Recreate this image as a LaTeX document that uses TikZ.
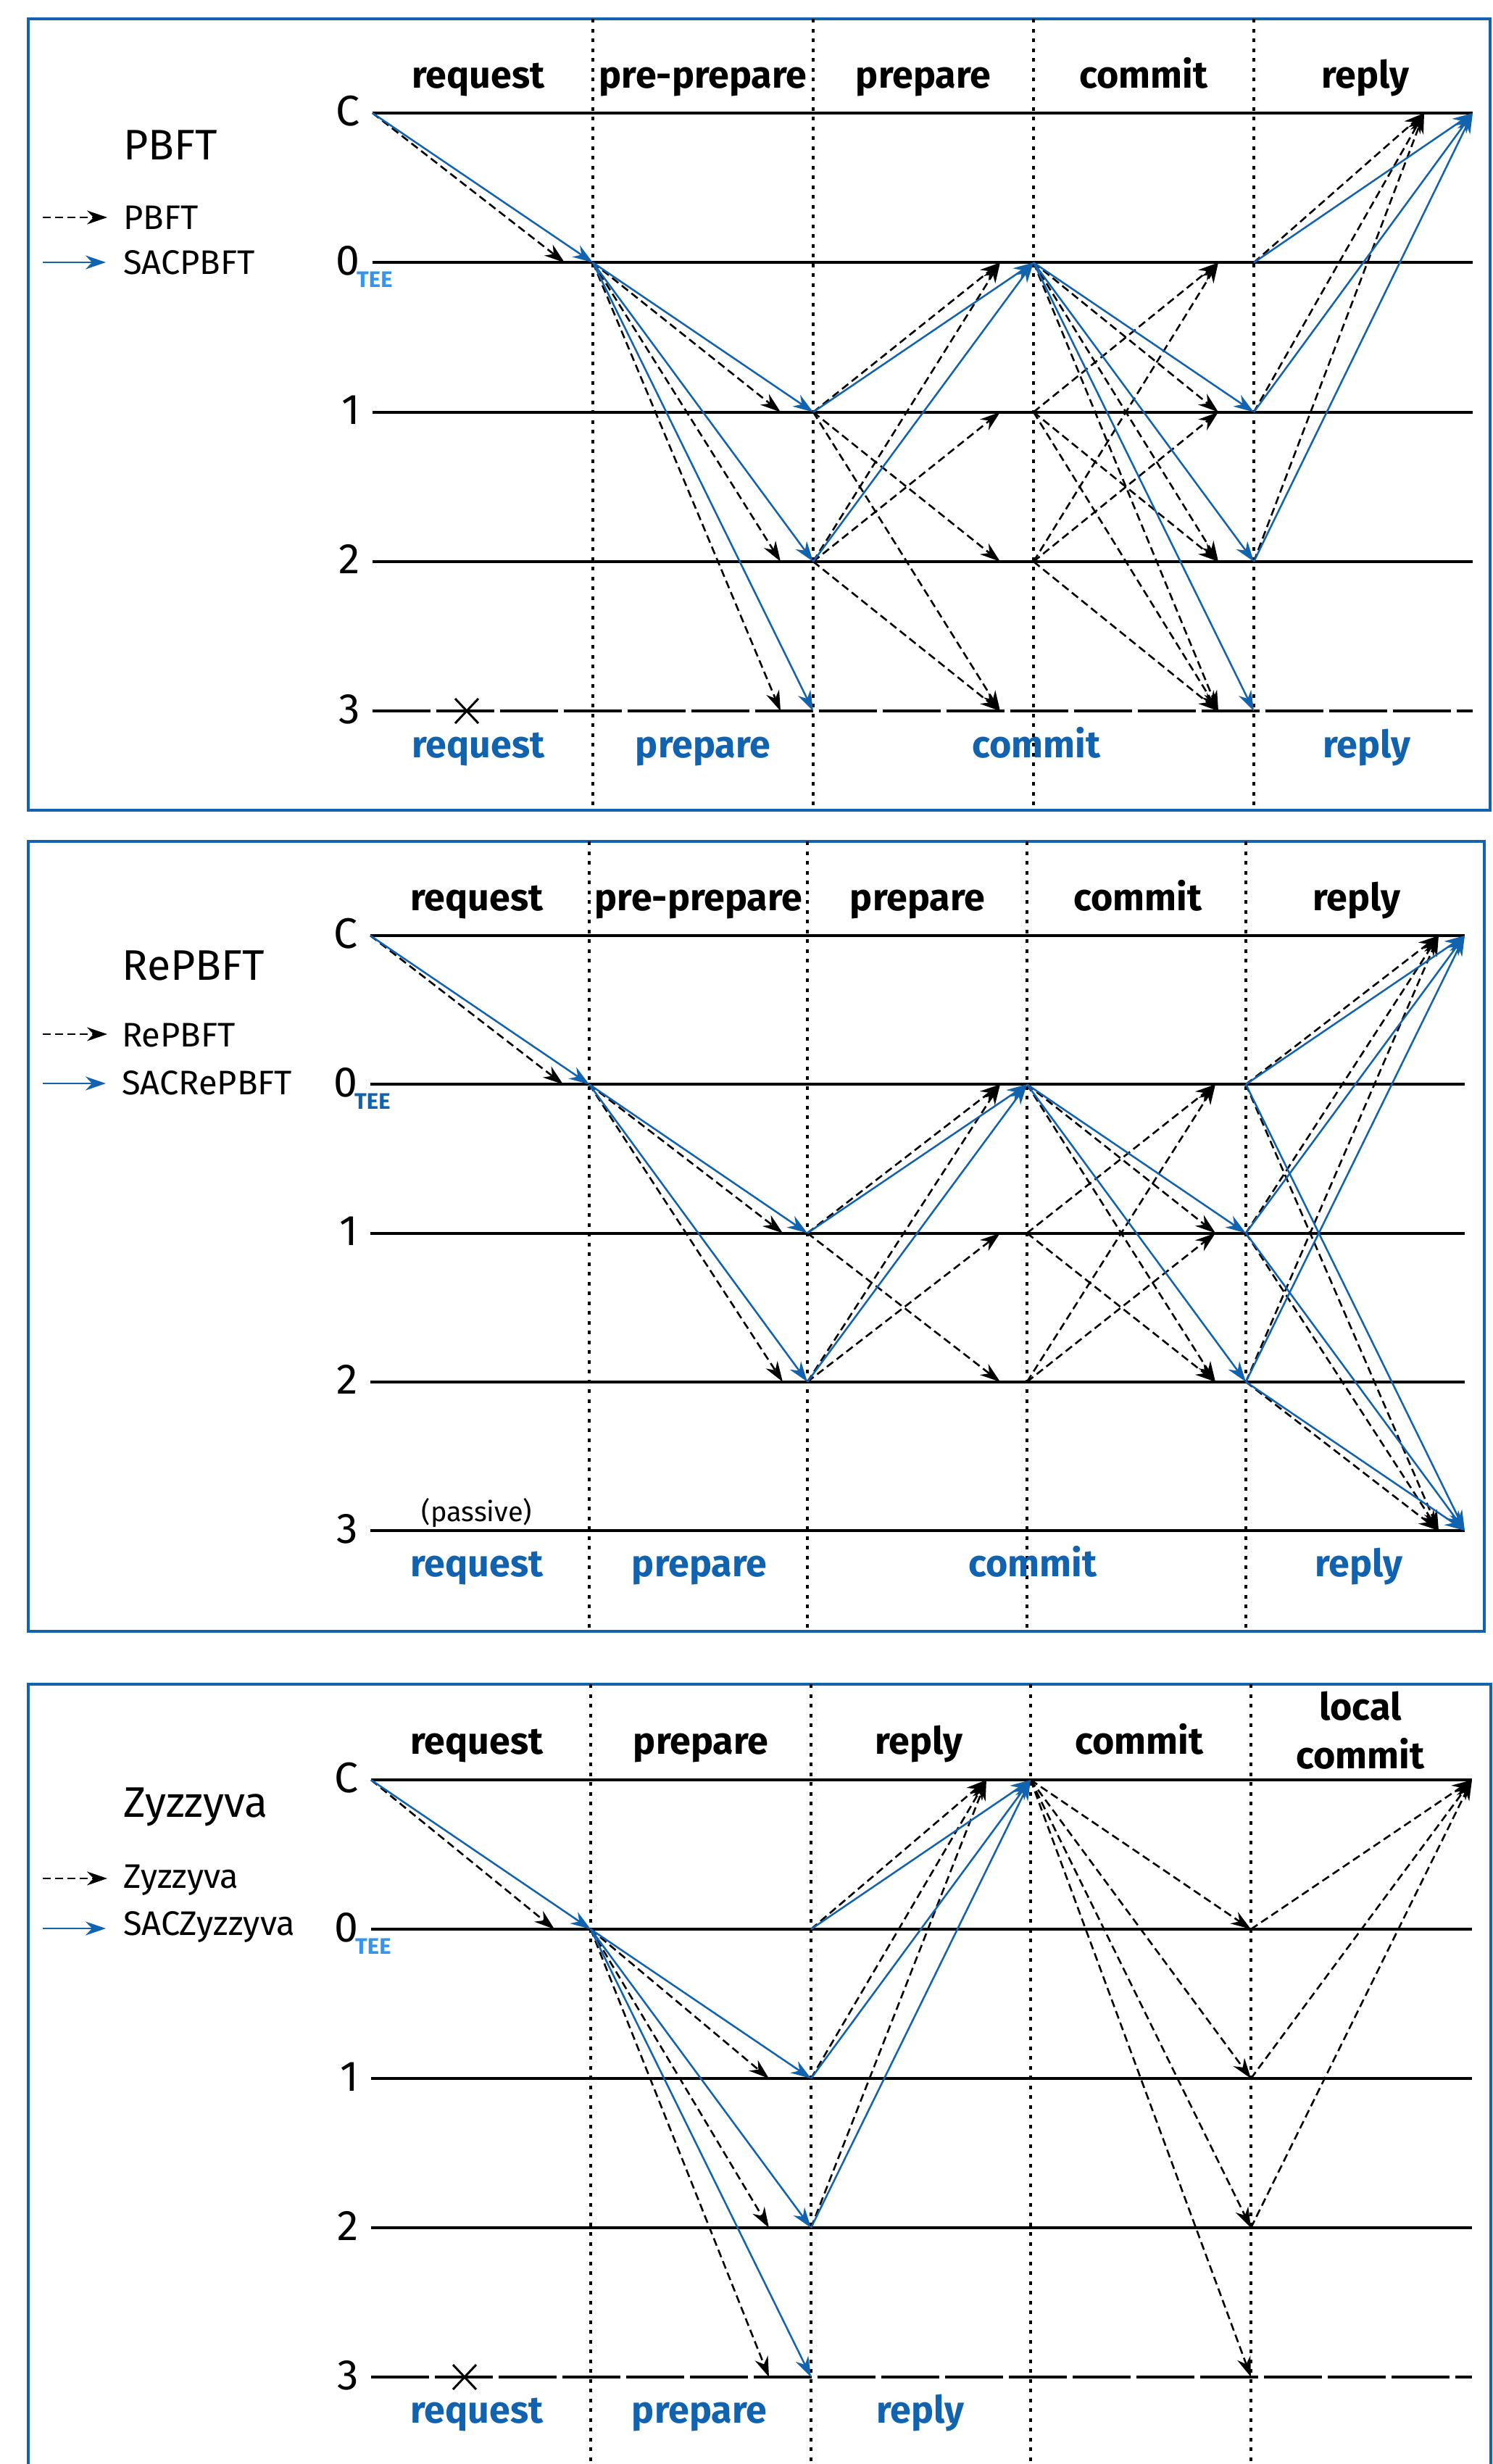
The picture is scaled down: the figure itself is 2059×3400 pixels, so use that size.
\documentclass[tikz,border=0pt]{standalone}
\usepackage{fontspec}
\setmainfont{Fira Sans}
\usetikzlibrary{arrows.meta,calc}
\definecolor{sacblue}{RGB}{17,99,175}
\definecolor{teeblue}{RGB}{50,150,240}

% event points: prefix, y of row C, row spacing, t0..t5
\newcommand\pcoords[9]{%
  \foreach \rw/\ix in {C/0,0/1,1/2,2/3,3/4}{%
    \foreach \kk/\xx in {0/#4,1/#5,2/#6,3/#7,4/#8,5/#9}{%
      \coordinate (#1-\rw-\kk) at (\xx,{#2+\ix*#3});
    }%
  }%
}
% arrival points of the dashed (original protocol) messages
\newcommand\dcoords[8]{%
  \foreach \rw/\ix in {C/0,0/1,1/2,2/3,3/4}{%
    \foreach \kk/\xx in {1/#4,2/#5,3/#6,4/#7,5/#8}{%
      \coordinate (#1-\rw-d\kk) at (\xx,{#2+\ix*#3});
    }%
  }%
}

\begin{document}
\begin{tikzpicture}[x=1pt,y=-1pt,
  rowline/.style={line width=4pt},
  rowdash/.style={line width=4pt, dash pattern=on 80pt off 8pt},
  dotline/.style={line width=3.5pt, dash pattern=on 5pt off 8.5pt},
  panelbox/.style={draw=sacblue, line width=4.5pt},
  dmsg/.style={line width=2.6pt, dash pattern=on 11pt off 6pt, -{Stealth[length=28pt,width=19pt,inset=9pt]}},
  bmsg/.style={sacblue, line width=2.5pt, -{Stealth[length=28pt,width=19pt,inset=9pt]}},
  phase/.style={font=\fontsize{52}{66.5}\selectfont\bfseries, anchor=base, inner sep=0pt},
  bphase/.style={phase, text=sacblue},
  rowlab/.style={font=\fontsize{59}{70}\selectfont, anchor=base east, inner sep=0pt},
  ptitle/.style={font=\fontsize{59}{70}\selectfont, anchor=base west, inner sep=0pt},
  leglab/.style={font=\fontsize{47}{55}\selectfont, anchor=base west, inner sep=0pt},
  tee/.style={font=\fontsize{31}{36}\selectfont\bfseries, anchor=base west, inner sep=0pt},
  crossmark/.style={line width=3pt},
]
\useasboundingbox (0,0) rectangle (2059,3400);
\fill[white] (0,0) rectangle (2059,3400);

%================ Panel A : PBFT ================
\pcoords{A}{156}{206.3}{514}{818}{1122}{1426}{1730}{2032}
\dcoords{A}{156}{206.3}{779}{1077}{1380}{1681}{1965}
\draw[panelbox] (39,26) rectangle (2056,1118);
\foreach \xx in {818,1122,1426,1730} \draw[dotline] (\xx,26) -- (\xx,1118);
\foreach \rw in {C,0,1,2} \draw[rowline] (A-\rw-0) -- (A-\rw-5);
\draw[rowdash] (A-3-0) -- (A-3-5);
\draw[crossmark] (628,964) -- (660,998) (628,998) -- (660,964);
\foreach \rw in {C,0,1,2,3} \node[rowlab] (A-l\rw) at ($(A-\rw-0)+(-17,17)$) {\rw};
\node[tee, text=teeblue] (A-tee) at ($(A-0-0)+(-22,34)$) {TEE};
\node[ptitle] (A-title) at (170,220) {PBFT};
\coordinate (A-g1s) at (59,300); \coordinate (A-g1e) at (148,300);
\coordinate (A-g2s) at (59,362); \coordinate (A-g2e) at (146,362);
\draw[dmsg] (A-g1s) -- (A-g1e);
\draw[bmsg] (A-g2s) -- (A-g2e);
\node[leglab] (A-g1) at (170,316) {PBFT};
\node[leglab] (A-g2) at (170,378) {SACPBFT};
\node[phase] (A-h1) at (660,121) {request};
\node[phase] (A-h2) at (970,121) {pre-prepare};
\node[phase] (A-h3) at (1274,121) {prepare};
\node[phase] (A-h4) at (1578,121) {commit};
\node[phase] (A-h5) at (1884,121) {reply};
\node[bphase] (A-b1) at (660,1045) {request};
\node[bphase] (A-b2) at (970,1045) {prepare};
\node[bphase] (A-b3) at (1430,1045) {commit};
\node[bphase] (A-b4) at (1886,1045) {reply};
\foreach \ms/\mt in {C-0/0-d1,
  0-1/1-d2, 0-1/2-d2, 0-1/3-d2,
  1-2/0-d3, 1-2/2-d3, 1-2/3-d3, 2-2/0-d3, 2-2/1-d3, 2-2/3-d3,
  0-3/1-d4, 0-3/2-d4, 0-3/3-d4, 1-3/0-d4, 1-3/2-d4, 1-3/3-d4, 2-3/0-d4, 2-3/1-d4, 2-3/3-d4,
  0-4/C-d5, 1-4/C-d5, 2-4/C-d5}
  \draw[dmsg] (A-\ms) -- (A-\mt);
\foreach \ms/\mt in {C-0/0-1, 0-1/1-2, 0-1/2-2, 0-1/3-2, 1-2/0-3, 2-2/0-3,
  0-3/1-4, 0-3/2-4, 0-3/3-4, 0-4/C-5, 1-4/C-5, 2-4/C-5}
  \draw[bmsg] (A-\ms) -- (A-\mt);

%================ Panel B : RePBFT ================
\pcoords{B}{1291}{205.25}{511}{813}{1114}{1417}{1719}{2021}
\dcoords{B}{1291}{205.25}{777}{1080}{1380}{1677}{1985}
\draw[panelbox] (39,1161) rectangle (2048,2251);
\foreach \xx in {813,1114,1417,1719} \draw[dotline] (\xx,1161) -- (\xx,2251);
\foreach \rw in {C,0,1,2,3} \draw[rowline] (B-\rw-0) -- (B-\rw-5);
\foreach \rw in {C,0,1,2,3} \node[rowlab] (B-l\rw) at ($(B-\rw-0)+(-17,17)$) {\rw};
\node[tee, text=sacblue] (B-tee) at ($(B-0-0)+(-22,34)$) {TEE};
\node[font=\fontsize{38}{44}\selectfont, anchor=base, inner sep=0pt] (B-passive) at (658,2099) {(passive)};
\node[ptitle] (B-title) at (168,1352) {RePBFT};
\coordinate (B-g1s) at (59,1427); \coordinate (B-g1e) at (148,1427);
\coordinate (B-g2s) at (59,1495); \coordinate (B-g2e) at (146,1495);
\draw[dmsg] (B-g1s) -- (B-g1e);
\draw[bmsg] (B-g2s) -- (B-g2e);
\node[leglab] (B-g1) at (168,1444) {RePBFT};
\node[leglab] (B-g2) at (168,1510) {SACRePBFT};
\node[phase] (B-h1) at (658,1256) {request};
\node[phase] (B-h2) at (964,1256) {pre-prepare};
\node[phase] (B-h3) at (1266,1256) {prepare};
\node[phase] (B-h4) at (1570,1256) {commit};
\node[phase] (B-h5) at (1872,1256) {reply};
\node[bphase] (B-b1) at (658,2175) {request};
\node[bphase] (B-b2) at (965,2175) {prepare};
\node[bphase] (B-b3) at (1425,2175) {commit};
\node[bphase] (B-b4) at (1875,2175) {reply};
\foreach \ms/\mt in {C-0/0-d1,
  0-1/1-d2, 0-1/2-d2,
  1-2/0-d3, 1-2/2-d3, 2-2/0-d3, 2-2/1-d3,
  0-3/1-d4, 0-3/2-d4, 1-3/0-d4, 1-3/2-d4, 2-3/0-d4, 2-3/1-d4,
  0-4/C-d5, 1-4/C-d5, 2-4/C-d5, 0-4/3-d5, 1-4/3-d5, 2-4/3-d5}
  \draw[dmsg] (B-\ms) -- (B-\mt);
\foreach \ms/\mt in {C-0/0-1, 0-1/1-2, 0-1/2-2, 1-2/0-3, 2-2/0-3,
  0-3/1-4, 0-3/2-4, 0-4/C-5, 1-4/C-5, 2-4/C-5, 0-4/3-5, 1-4/3-5, 2-4/3-5}
  \draw[bmsg] (B-\ms) -- (B-\mt);

%================ Panel Z : Zyzzyva ================
\pcoords{Z}{2456}{206}{512}{815}{1119}{1422}{1726}{2031}
\dcoords{Z}{2456}{206}{765}{1061}{1361}{1726}{2031}
\draw[panelbox] (39,2324) rectangle (2057,3460);
\foreach \xx in {815,1119,1422,1726} \draw[dotline] (\xx,2324) -- (\xx,3400);
\foreach \rw in {C,0,1,2} \draw[rowline] (Z-\rw-0) -- (Z-\rw-5);
\draw[rowdash] (Z-3-0) -- (Z-3-5);
\draw[crossmark] (625,3263) -- (657,3297) (625,3297) -- (657,3263);
\foreach \rw in {C,0,1,2,3} \node[rowlab] (Z-l\rw) at ($(Z-\rw-0)+(-17,17)$) {\rw};
\node[tee, text=teeblue] (Z-tee) at ($(Z-0-0)+(-22,34)$) {TEE};
\node[ptitle] (Z-title) at (170,2507) {Zyzzyva};
\coordinate (Z-g1s) at (59,2592); \coordinate (Z-g1e) at (148,2592);
\coordinate (Z-g2s) at (59,2661); \coordinate (Z-g2e) at (146,2661);
\draw[dmsg] (Z-g1s) -- (Z-g1e);
\draw[bmsg] (Z-g2s) -- (Z-g2e);
\node[leglab] (Z-g1) at (170,2605) {Zyzzyva};
\node[leglab] (Z-g2) at (170,2670) {SACZyzzyva};
\node[phase] (Z-h1) at (658,2420) {request};
\node[phase] (Z-h2) at (967,2420) {prepare};
\node[phase] (Z-h3) at (1268,2420) {reply};
\node[phase] (Z-h4) at (1572,2420) {commit};
\node[phase, align=center] (Z-h5) at (1877,2440) {local\\commit};
\node[bphase] (Z-b1) at (658,3343) {request};
\node[bphase] (Z-b2) at (965,3343) {prepare};
\node[bphase] (Z-b3) at (1270,3343) {reply};
\foreach \ms/\mt in {C-0/0-d1,
  0-1/1-d2, 0-1/2-d2, 0-1/3-d2,
  0-2/C-d3, 1-2/C-d3, 2-2/C-d3,
  C-3/0-d4, C-3/1-d4, C-3/2-d4, C-3/3-d4,
  0-4/C-d5, 1-4/C-d5, 2-4/C-d5}
  \draw[dmsg] (Z-\ms) -- (Z-\mt);
\foreach \ms/\mt in {C-0/0-1, 0-1/1-2, 0-1/2-2, 0-1/3-2,
  0-2/C-3, 1-2/C-3, 2-2/C-3}
  \draw[bmsg] (Z-\ms) -- (Z-\mt);
\end{tikzpicture}
\end{document}
